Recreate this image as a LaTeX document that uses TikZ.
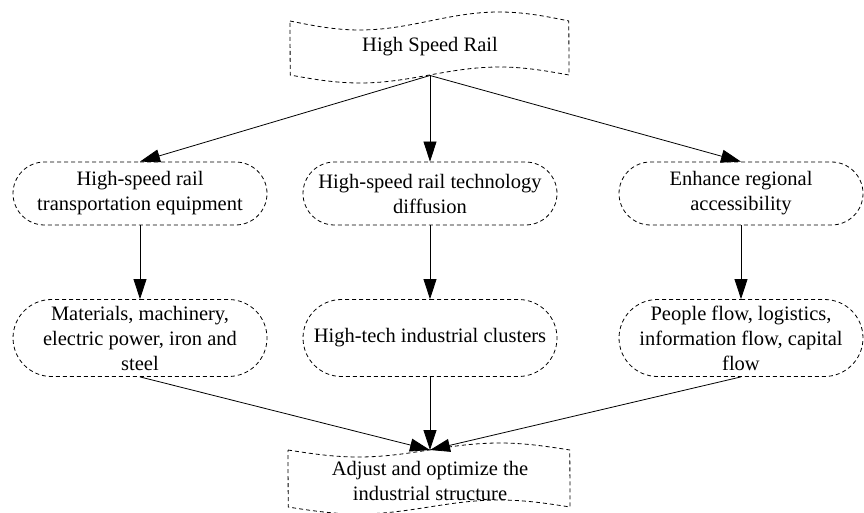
\documentclass[tikz,border=0pt]{standalone}
\usepackage{fontspec}
\setmainfont{Liberation Serif}
\usetikzlibrary{shapes.misc,arrows.meta}
\begin{document}
\begin{tikzpicture}[x=1pt,y=-1pt,
  txt/.style={font=\fontsize{20.5}{25}\selectfont, align=center, inner sep=0pt},
  box/.style={txt, rounded rectangle, draw, dash pattern=on 4pt off 3pt, line width=0.8pt},
  wave/.style={draw, dash pattern=on 4pt off 3pt, line width=0.8pt},
  arr/.style={-{Triangle[length=20pt,width=13pt]}, line width=0.8pt}
]
\useasboundingbox (0,0) rectangle (864,513);

% top banner
\draw[wave] plot[domain=0:1,samples=60] ({290+279*\x},{21+9*sin(360*\x)})
  -- plot[domain=1:0,samples=60] ({290+279*\x},{75+8*sin(360*\x)}) -- cycle;
\node[txt] (hsr) at (430,47) {High Speed Rail};
\coordinate (hsrb) at (430,75.5);

% row 1
\node[box, minimum width=254pt, minimum height=63pt] (l1) at (140,193.5)
  {High-speed rail\\transportation equipment};
\node[box, minimum width=254pt, minimum height=63pt] (m1) at (430,193.5)
  {High-speed rail technology\\diffusion};
\node[box, minimum width=244pt, minimum height=63pt] (r1) at (741,193.5)
  {Enhance regional\\accessibility};

% row 2
\node[box, minimum width=254pt, minimum height=77pt] (l2) at (140,338)
  {Materials, machinery,\\electric power, iron and\\steel};
\node[box, minimum width=254pt, minimum height=77pt] (m2) at (430,338)
  {High-tech industrial clusters};
\node[box, minimum width=244pt, minimum height=77pt] (r2) at (741,338)
  {People flow, logistics,\\information flow, capital\\flow};

% bottom banner
\draw[wave] plot[domain=0:1,samples=60] ({288+282*\x},{450+7*sin(360*\x)})
  -- plot[domain=1:0,samples=60] ({288+282*\x},{507+7*sin(360*\x)}) -- cycle;
\node[txt] (adj) at (430,481) {Adjust and optimize the\\industrial structure};
\coordinate (adjt) at (430,450);

% connectors
\draw[arr] (hsrb) -- (l1.north);
\draw[arr] (hsrb) -- (m1.north);
\draw[arr] (hsrb) -- (r1.north);
\draw[arr] (l1.south) -- (l2.north);
\draw[arr] (m1.south) -- (m2.north);
\draw[arr] (r1.south) -- (r2.north);
\draw[arr] (l2.south) -- (adjt);
\draw[arr] (m2.south) -- (adjt);
\draw[arr] (r2.south) -- (adjt);
\end{tikzpicture}
\end{document}
